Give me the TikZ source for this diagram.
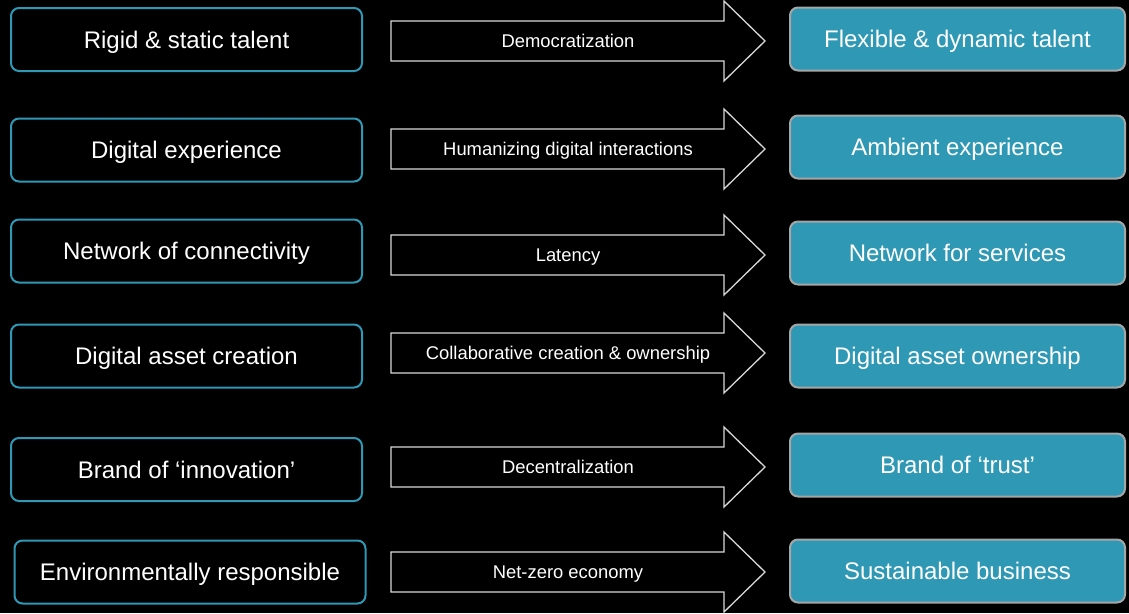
\documentclass[tikz,border=0pt]{standalone}
\usepackage{fontspec}
\setmainfont{Liberation Sans}
\definecolor{teal}{HTML}{2F98B4}
\definecolor{graybd}{HTML}{A6A6A6}
\definecolor{arrowln}{HTML}{D9D9D9}
\tikzset{
  x=1pt, y=-1pt,
  boxtext/.style={text=white, font=\fontsize{24}{27}\selectfont, text height=17pt, text depth=0pt},
  fromboxnode/.style={boxtext, draw=teal, line width=2pt, rounded corners=8pt, fill=black,
    minimum width=351pt, minimum height=63pt},
  toboxnode/.style={boxtext, draw=graybd, line width=2pt, rounded corners=8pt, fill=teal,
    minimum width=335pt, minimum height=63pt},
  arrowshape/.style={draw=arrowln, line width=1.3pt, fill=black, line join=miter},
  arrowlabel/.style={text=white, font=\fontsize{18.4}{21}\selectfont, inner sep=0pt,
    text height=13.2pt, text depth=0pt},
}
% Block arrow: tail at x=391, head base at x=724, tip at x=765
\newcommand{\blockarrow}[1]{%
  \draw[arrowshape] (391,#1-20) -- (724,#1-20) -- (724,#1-40) -- (765,#1)
    -- (724,#1+40) -- (724,#1+20) -- (391,#1+20) -- cycle;}
\begin{document}
\begin{tikzpicture}
\fill[black] (0,0) rectangle (1129,613);
\useasboundingbox (0,0) rectangle (1129,613);

% current state
\node[fromboxnode] (f1) at (186.5,39.5) {Rigid \& static talent};
\node[fromboxnode] (f2) at (186.5,150) {Digital experience};
\node[fromboxnode] (f3) at (186.5,251) {Network of connectivity};
\node[fromboxnode] (f4) at (186.5,356) {Digital asset creation};
\node[fromboxnode] (f5) at (186.5,469.5) {Brand of ‘innovation’};
\node[fromboxnode] (f6) at (190,572) {Environmentally responsible};

% transitions
\blockarrow{41}
\node[arrowlabel] (a1) at (568,41) {Democratization};
\blockarrow{149}
\node[arrowlabel] (a2) at (568,149) {Humanizing digital interactions};
\blockarrow{255}
\node[arrowlabel] (a3) at (568,255) {Latency};
\blockarrow{353}
\node[arrowlabel] (a4) at (568,353) {Collaborative creation \& ownership};
\blockarrow{467}
\node[arrowlabel] (a5) at (568,467) {Decentralization};
\blockarrow{572}
\node[arrowlabel] (a6) at (568,572) {Net-zero economy};

% target state
\node[toboxnode] (t1) at (957.5,39) {Flexible \& dynamic talent};
\node[toboxnode] (t2) at (957.5,147) {Ambient experience};
\node[toboxnode] (t3) at (957.5,253) {Network for services};
\node[toboxnode] (t4) at (957.5,356) {Digital asset ownership};
\node[toboxnode] (t5) at (957.5,465) {Brand of ‘trust’};
\node[toboxnode] (t6) at (957.5,571) {Sustainable business};
\end{tikzpicture}
\end{document}
